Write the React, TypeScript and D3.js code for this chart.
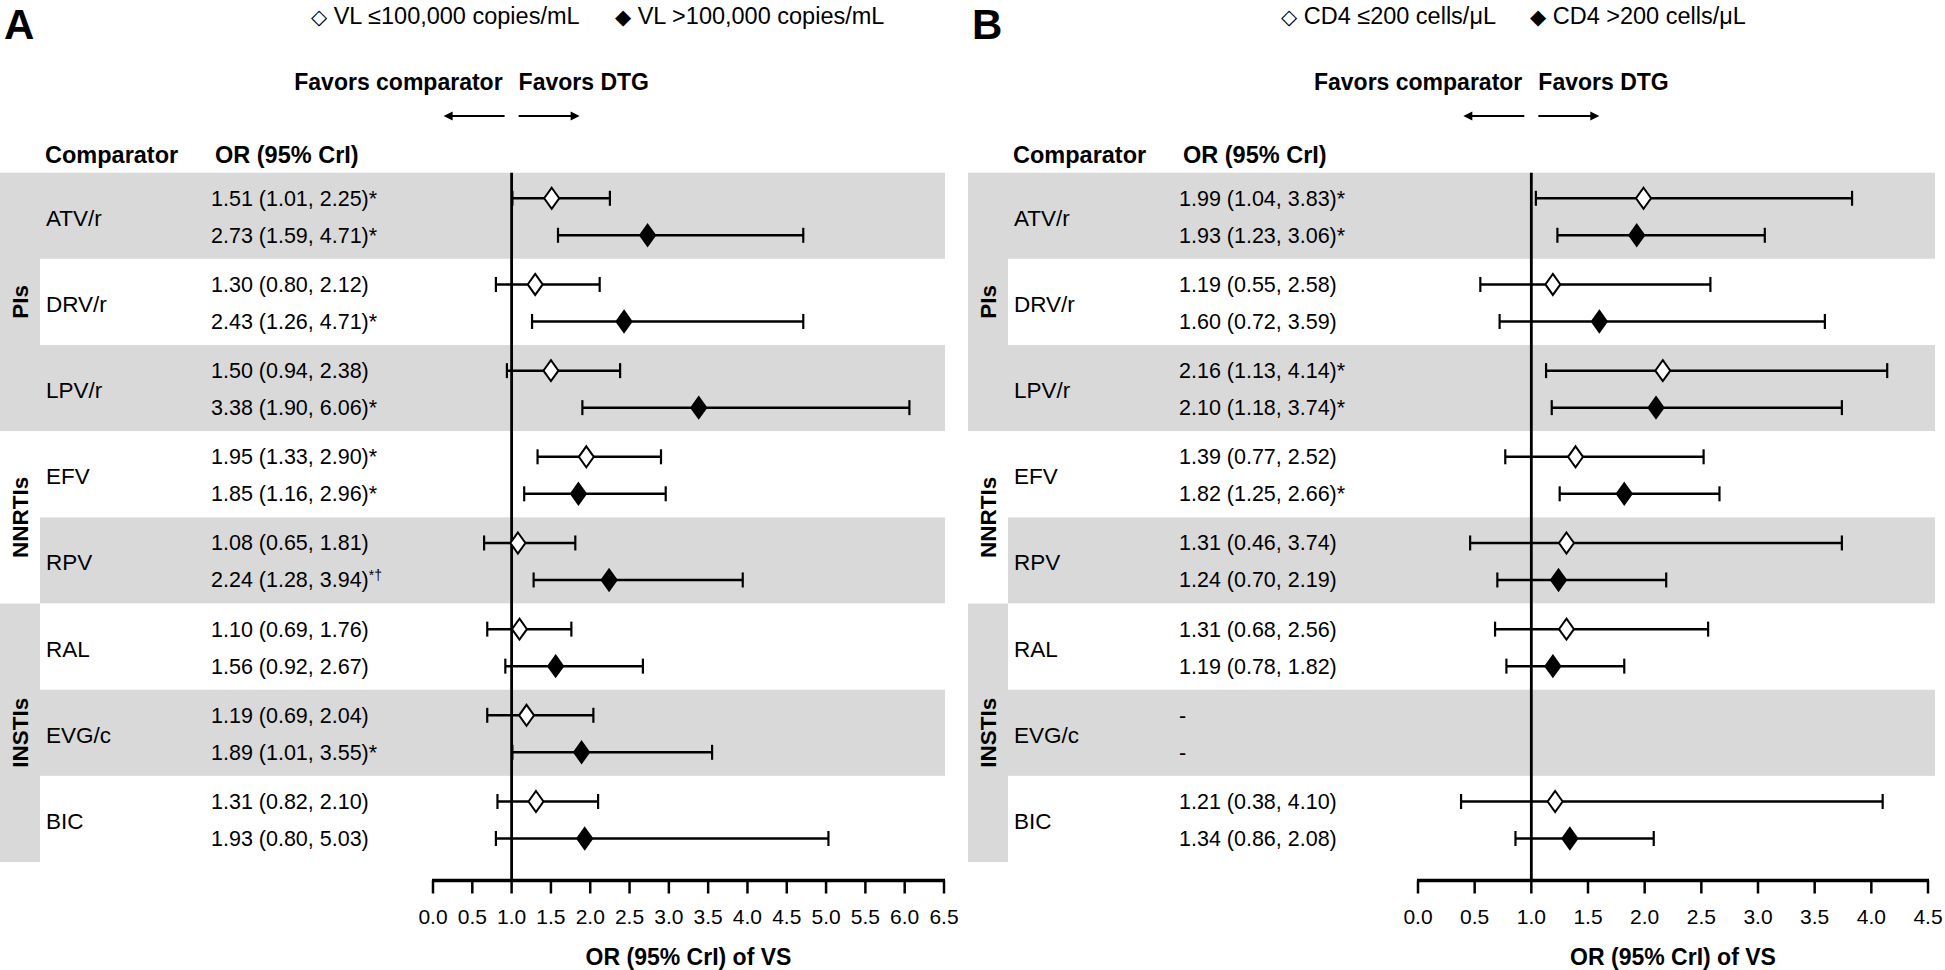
import React from "react";
import * as d3 from "d3";

// ---------- data ----------
const comparators = ["ATV/r", "DRV/r", "LPV/r", "EFV", "RPV", "RAL", "EVG/c", "BIC"];
const groupNames = ["PIs", "NNRTIs", "INSTIs"];
const groupSizes = [3, 2, 3];

// Panel A: viral load strata
const vlLegend = ["VL ≤100,000 copies/mL", "VL >100,000 copies/mL"];
const vlLowOR = [1.51, 1.30, 1.50, 1.95, 1.08, 1.10, 1.19, 1.31];
const vlLowLo = [1.01, 0.80, 0.94, 1.33, 0.65, 0.69, 0.69, 0.82];
const vlLowHi = [2.25, 2.12, 2.38, 2.90, 1.81, 1.76, 2.04, 2.10];
const vlLowSig = ["*", "", "", "*", "", "", "", ""];
const vlHighOR = [2.73, 2.43, 3.38, 1.85, 2.24, 1.56, 1.89, 1.93];
const vlHighLo = [1.59, 1.26, 1.90, 1.16, 1.28, 0.92, 1.01, 0.80];
const vlHighHi = [4.71, 4.71, 6.06, 2.96, 3.94, 2.67, 3.55, 5.03];
const vlHighSig = ["*", "*", "*", "*", "*†", "", "*", ""];
const ticksA = [0, 0.5, 1, 1.5, 2, 2.5, 3, 3.5, 4, 4.5, 5, 5.5, 6, 6.5];

// Panel B: CD4 strata
const cd4Legend = ["CD4 ≤200 cells/μL", "CD4 >200 cells/μL"];
const cd4LowOR = [1.99, 1.19, 2.16, 1.39, 1.31, 1.31, null, 1.21];
const cd4LowLo = [1.04, 0.55, 1.13, 0.77, 0.46, 0.68, null, 0.38];
const cd4LowHi = [3.83, 2.58, 4.14, 2.52, 3.74, 2.56, null, 4.10];
const cd4LowSig = ["*", "", "*", "", "", "", "", ""];
const cd4HighOR = [1.93, 1.60, 2.10, 1.82, 1.24, 1.19, null, 1.34];
const cd4HighLo = [1.23, 0.72, 1.18, 1.25, 0.70, 0.78, null, 0.86];
const cd4HighHi = [3.06, 3.59, 3.74, 2.66, 2.19, 1.82, null, 2.08];
const cd4HighSig = ["*", "", "*", "*", "", "", "", ""];
const ticksB = [0, 0.5, 1, 1.5, 2, 2.5, 3, 3.5, 4, 4.5];

// ---------- layout ----------
const FONT = "'Liberation Sans', Arial, Helvetica, sans-serif";
const BLOCK_TOP = 172.7;
const BLOCK_H = 86.17;
const GRAY = "#d9d9d9";

type Series = {
  or: (number | null)[];
  lo: (number | null)[];
  hi: (number | null)[];
  sig: string[];
  filled: boolean;
};

function diamondPath(cx: number, cy: number, hw: number, hh: number) {
  const p = d3.path();
  p.moveTo(cx, cy - hh);
  p.lineTo(cx + hw, cy);
  p.lineTo(cx, cy + hh);
  p.lineTo(cx - hw, cy);
  p.closePath();
  return p.toString();
}

function Panel(props: {
  x0: number;
  axisLeft: number;
  axisRight: number;
  bandRight: number;
  ticks: number[];
  letter: string;
  legend: string[];
  legendX: number[];
  series: Series[];
}) {
  const { x0, axisLeft, axisRight, bandRight, ticks, letter, legend, legendX, series } = props;
  const x = d3.scaleLinear().domain([0, d3.max(ticks) as number]).range([axisLeft, axisRight]);
  const x1 = x(1);
  const fmt = d3.format(".2f");
  const yBlock = (i: number) => BLOCK_TOP + BLOCK_H * i;
  const yCenter = (i: number) => yBlock(i) + BLOCK_H / 2;
  const rowOffsets = [-17.5, 19.5];
  const groupStarts = [0, ...d3.cumsum(groupSizes)].slice(0, groupSizes.length);
  const axisY = 880.5;
  const colW = 40;
  const labelX = x0 + 46;
  const valueX = x0 + 211;

  return (
    <g fontFamily={FONT} fill="#000">
      {/* panel letter */}
      <text x={x0 + 4} y={39} fontSize={42} fontWeight="bold">{letter}</text>
      {/* legend */}
      {legend.map((l, k) => (
        <text key={k} x={legendX[k]} y={24} fontSize={23.5}>
          <tspan fontFamily="'DejaVu Sans', sans-serif" fontSize={21}>{k === 0 ? "◇" : "◆"}</tspan>
          <tspan> {l}</tspan>
        </text>
      ))}
      {/* favors */}
      <text x={x1 - 9} y={90} fontSize={23} fontWeight="bold" textAnchor="end">Favors comparator</text>
      <text x={x1 + 7} y={90} fontSize={23} fontWeight="bold">Favors DTG</text>
      <line x1={x1 - 7} x2={x1 - 62} y1={116} y2={116} stroke="#000" strokeWidth={2} />
      <path d={`M${x1 - 68},116 L${x1 - 59},111.5 L${x1 - 59},120.5 Z`} fill="#000" />
      <line x1={x1 + 7} x2={x1 + 62} y1={116} y2={116} stroke="#000" strokeWidth={2} />
      <path d={`M${x1 + 68},116 L${x1 + 59},111.5 L${x1 + 59},120.5 Z`} fill="#000" />
      {/* headers */}
      <text x={x0 + 45} y={163} fontSize={23.5} fontWeight="bold">Comparator</text>
      <text x={x0 + 215} y={163} fontSize={23.5} fontWeight="bold">OR (95% CrI)</text>

      {/* row bands */}
      {comparators.map((c, i) => (
        <rect key={c} x={x0 + colW} y={yBlock(i)} width={bandRight - x0 - colW} height={BLOCK_H}
          fill={i % 2 === 0 ? GRAY : "#fff"} />
      ))}
      {/* group column */}
      {groupNames.map((g, gi) => (
        <rect key={g} x={x0} y={yBlock(groupStarts[gi])} width={colW} height={BLOCK_H * groupSizes[gi]}
          fill={gi % 2 === 0 ? GRAY : "#fff"} />
      ))}
      {groupNames.map((g, gi) => {
        const cy = yBlock(groupStarts[gi]) + (BLOCK_H * groupSizes[gi]) / 2;
        return (
          <text key={g} transform={`translate(${x0 + 20},${cy}) rotate(-90)`} textAnchor="middle"
            dominantBaseline="central" fontSize={22.5} fontWeight="bold">{g}</text>
        );
      })}

      {/* labels and values */}
      {comparators.map((c, i) => (
        <text key={c} x={labelX} y={yCenter(i) + 10} fontSize={22.5}>{c}</text>
      ))}
      {series.map((s, k) =>
        comparators.map((c, i) => {
          const y = yCenter(i) + rowOffsets[k] + 7.5;
          const v = s.or[i];
          if (v == null) {
            return <text key={`${k}-${c}`} x={valueX} y={y} fontSize={21.5}>-</text>;
          }
          const base = `${fmt(v)} (${fmt(s.lo[i] as number)}, ${fmt(s.hi[i] as number)})`;
          const sig = s.sig[i];
          return (
            <text key={`${k}-${c}`} x={valueX} y={y} fontSize={21.5}>
              {base}
              {sig === "*†" ? (
                <tspan fontSize={14} dy={-7}>{sig}</tspan>
              ) : (
                sig
              )}
            </text>
          );
        })
      )}

      {/* reference line */}
      <line x1={x1} x2={x1} y1={BLOCK_TOP} y2={axisY} stroke="#000" strokeWidth={2.8} />

      {/* error bars and markers */}
      {series.map((s, k) =>
        comparators.map((c, i) => {
          const v = s.or[i];
          if (v == null) return null;
          const y = yCenter(i) + rowOffsets[k];
          const xl = x(s.lo[i] as number);
          const xh = x(s.hi[i] as number);
          return (
            <g key={`m${k}-${c}`}>
              <line x1={xl} x2={xh} y1={y} y2={y} stroke="#000" strokeWidth={2.5} />
              <line x1={xl} x2={xl} y1={y - 7.5} y2={y + 7.5} stroke="#000" strokeWidth={2.2} />
              <line x1={xh} x2={xh} y1={y - 7.5} y2={y + 7.5} stroke="#000" strokeWidth={2.2} />
              <path d={diamondPath(x(v), y, 7.5, 10.5)} fill={s.filled ? "#000" : "#fff"}
                stroke="#000" strokeWidth={2} />
            </g>
          );
        })
      )}

      {/* axis */}
      <line x1={axisLeft - 1} x2={axisRight + 1} y1={axisY} y2={axisY} stroke="#000" strokeWidth={3.5} />
      {ticks.map((t) => (
        <g key={t}>
          <line x1={x(t)} x2={x(t)} y1={axisY} y2={axisY + 13} stroke="#000" strokeWidth={2.5} />
          <text x={x(t)} y={923.5} fontSize={21} textAnchor="middle">{d3.format(".1f")(t)}</text>
        </g>
      ))}
      <text x={(axisLeft + axisRight) / 2} y={965} fontSize={23} fontWeight="bold" textAnchor="middle">
        OR (95% CrI) of VS
      </text>
    </g>
  );
}

export default function App() {
  const seriesA: Series[] = [
    { or: vlLowOR, lo: vlLowLo, hi: vlLowHi, sig: vlLowSig, filled: false },
    { or: vlHighOR, lo: vlHighLo, hi: vlHighHi, sig: vlHighSig, filled: true },
  ];
  const seriesB: Series[] = [
    { or: cd4LowOR, lo: cd4LowLo, hi: cd4LowHi, sig: cd4LowSig, filled: false },
    { or: cd4HighOR, lo: cd4HighLo, hi: cd4HighHi, sig: cd4HighSig, filled: true },
  ];
  return (
    <svg width={1945} height={970} style={{ position: "absolute", left: 0, top: 0, background: "#fff" }}>
      <rect width={1945} height={970} fill="#fff" />
      <Panel x0={0} axisLeft={433} axisRight={944} bandRight={945} ticks={ticksA} letter="A"
        legend={vlLegend} legendX={[311, 615]} series={seriesA} />
      <Panel x0={968} axisLeft={1418} axisRight={1928} bandRight={1935} ticks={ticksB} letter="B"
        legend={cd4Legend} legendX={[1281, 1530]} series={seriesB} />
    </svg>
  );
}
